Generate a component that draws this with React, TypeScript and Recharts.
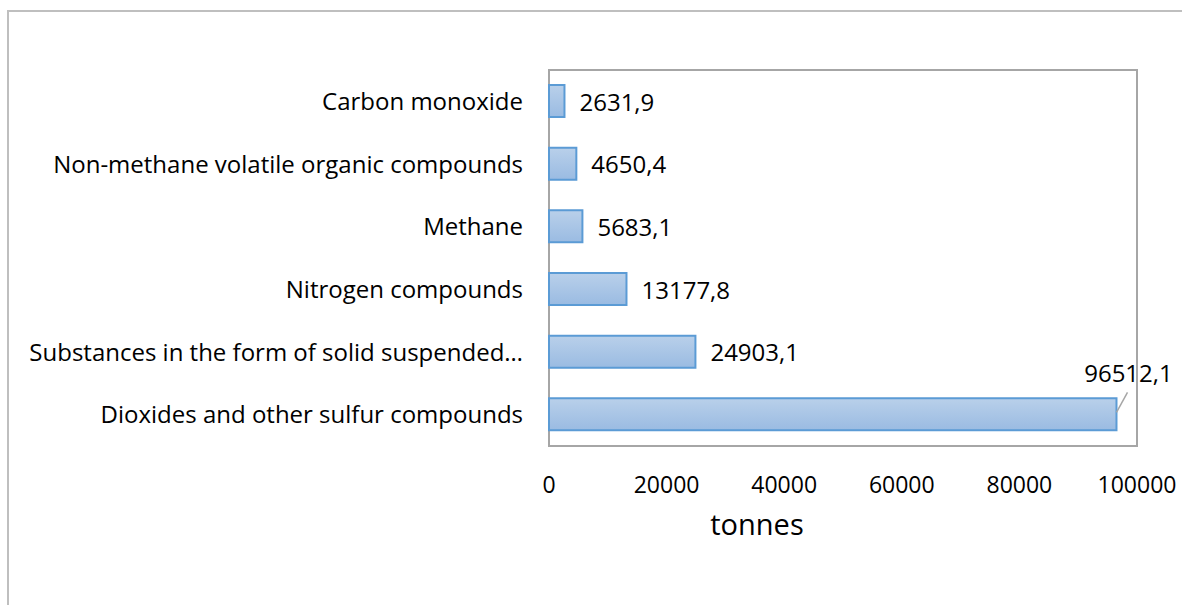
import React from 'react';
import { BarChart, Bar, XAxis, YAxis, ReferenceArea, LabelList } from 'recharts';

const categories = [
  'Carbon monoxide',
  'Non-methane volatile organic compounds',
  'Methane',
  'Nitrogen compounds',
  'Substances in the form of solid suspended particles',
  'Dioxides and other sulfur compounds',
];
const emissions = [2631.9, 4650.4, 5683.1, 13177.8, 24903.1, 96512.1];
const xTicks = [0, 20000, 40000, 60000, 80000, 100000];

const data = categories.map((name, i) => ({ name, value: emissions[i] }));

const FONT = '"Open Sans", sans-serif';

const fmt = (v: number) => v.toFixed(1).replace('.', ',');

const truncate = (s: string) => (s.length > 42 ? s.slice(0, 41) + '…' : s);

// data label: right of the bar, or above with a leader line when it would run off the plot
const BarLabel = (props: any) => {
  const { x, y, width, height, value } = props;
  const end = x + width;
  const cy = y + height / 2;
  if (value > 90000) {
    return (
      <g>
        <line x1={end} y1={cy - 2} x2={end + 11} y2={cy - 22} stroke="#a6a6a6" strokeWidth={1.5} />
        <text x={end + 12} y={cy - 42} textAnchor="middle" dominantBaseline="central" fontSize={24} fontFamily={FONT} fill="#000">
          {fmt(value)}
        </text>
      </g>
    );
  }
  return (
    <text x={end + 15} y={cy} textAnchor="start" dominantBaseline="central" fontSize={24} fontFamily={FONT} fill="#000">
      {fmt(value)}
    </text>
  );
};

// axis title sits a bit left of the plot centre, as in the original
const AxisTitle = (props: any) => {
  const { viewBox } = props;
  return (
    <text
      x={viewBox.x + viewBox.width / 2 - 86}
      y={viewBox.y + 77}
      textAnchor="middle"
      dominantBaseline="central"
      fontSize={29}
      fontFamily={FONT}
      fill="#000"
    >
      tonnes
    </text>
  );
};

export default function App() {
  return (
    <div style={{ position: 'absolute', left: 0, top: 0, width: 1182, height: 605, background: '#fff' }}>
      <div
        style={{
          position: 'absolute',
          left: 7,
          top: 10,
          width: 1200,
          height: 620,
          borderTop: '2px solid #bfbfbf',
          borderLeft: '2px solid #bfbfbf',
        }}
      />
      <BarChart
        width={1182}
        height={605}
        data={data}
        layout="vertical"
        margin={{ top: 70, right: 45, bottom: 79, left: 0 }}
        barSize={32}
        style={{ position: 'absolute', left: 0, top: 0 }}
      >
        <defs>
          <linearGradient id="barFill" x1="0" y1="0" x2="0" y2="1">
            <stop offset="0%" stopColor="#b9d0ea" />
            <stop offset="100%" stopColor="#9abbe2" />
          </linearGradient>
        </defs>
        <XAxis
          type="number"
          domain={[0, 100000]}
          ticks={xTicks}
          axisLine={false}
          tickLine={false}
          tickSize={0}
          tickMargin={31}
          height={80}
          interval={0}
          tick={{ fontSize: 23, fontFamily: FONT, fill: '#000' }}
          label={<AxisTitle />}
        />
        <YAxis
          type="category"
          dataKey="name"
          width={549}
          axisLine={false}
          tickLine={false}
          tickSize={0}
          tickMargin={26}
          interval={0}
          tickFormatter={truncate}
          tick={{ fontSize: 24, fontFamily: FONT, fill: '#000' }}
        />
        <ReferenceArea x1={0} x2={100000} fill="none" stroke="#a6a6a6" strokeWidth={2} ifOverflow="extendDomain" />
        <Bar dataKey="value" fill="url(#barFill)" stroke="#5b9bd5" strokeWidth={2} isAnimationActive={false}>
          <LabelList dataKey="value" content={BarLabel} />
        </Bar>
      </BarChart>
    </div>
  );
}
